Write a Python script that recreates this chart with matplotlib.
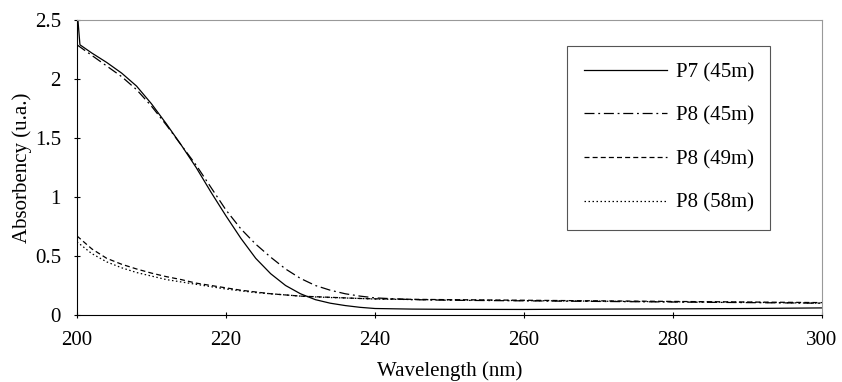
import numpy as np
import matplotlib
matplotlib.use("Agg")
import matplotlib.pyplot as plt

plt.rcParams['font.family'] = ['Liberation Serif', 'DejaVu Serif']

# Absorbency spectra
wl_p7 = [200, 200.4, 202, 204, 206, 208, 210, 212, 214, 216, 218, 220, 222, 224, 226,
         228, 230, 232, 234, 236, 238, 240, 245, 250, 260, 270, 280, 290, 300]
abs_p7_45 = [2.60, 2.29, 2.22, 2.14, 2.05, 1.94, 1.79, 1.62, 1.44, 1.25, 1.04, 0.84, 0.65,
             0.48, 0.35, 0.25, 0.18, 0.13, 0.10, 0.08, 0.065, 0.055, 0.05, 0.048, 0.047,
             0.05, 0.052, 0.055, 0.06]

wl = [200, 202, 204, 206, 208, 210, 212, 214, 216, 218, 220, 222, 224, 226, 228,
      230, 232, 234, 236, 238, 240, 245, 250, 260, 270, 280, 290, 300]
abs_p8_45 = [2.29, 2.20, 2.11, 2.02, 1.91, 1.77, 1.61, 1.44, 1.27, 1.08, 0.89, 0.73, 0.60,
             0.49, 0.39, 0.31, 0.25, 0.21, 0.18, 0.16, 0.145, 0.13, 0.125, 0.12, 0.115,
             0.11, 0.105, 0.10]
abs_p8_49 = [0.67, 0.56, 0.48, 0.43, 0.39, 0.355, 0.325, 0.30, 0.27, 0.25, 0.23, 0.21, 0.195,
             0.18, 0.17, 0.16, 0.155, 0.15, 0.145, 0.14, 0.137, 0.133, 0.13, 0.125, 0.12,
             0.115, 0.11, 0.105]
abs_p8_58 = [0.62, 0.52, 0.45, 0.40, 0.36, 0.33, 0.30, 0.28, 0.26, 0.24, 0.22, 0.205, 0.19,
             0.18, 0.17, 0.16, 0.153, 0.148, 0.144, 0.14, 0.135, 0.131, 0.128, 0.122, 0.117,
             0.112, 0.108, 0.10]

x_ticks = [200, 220, 240, 260, 280, 300]
y_ticks = [0, 0.5, 1, 1.5, 2, 2.5]

fig = plt.figure(figsize=(8.42, 3.82), dpi=100)
ax = fig.add_axes([0.0914, 0.1754, 0.8848, 0.7722])

ax.plot(wl_p7, abs_p7_45, color='black', lw=0.9, ls='-', label='P7 (45m)')
ax.plot(wl, abs_p8_45, color='black', lw=0.9, ls=(0, (8, 3, 1.5, 3)), label='P8 (45m)')
ax.plot(wl, abs_p8_49, color='black', lw=0.9, ls=(0, (4, 2.5)), label='P8 (49m)')
ax.plot(wl, abs_p8_58, color='black', lw=0.9, ls=(0, (1.2, 2)), label='P8 (58m)')

ax.set_xlim(200, 300)
ax.set_ylim(0, 2.5)
ax.set_xticks(x_ticks)
ax.set_yticks(y_ticks)
ax.set_yticklabels(['0', '0.5', '1', '1.5', '2', '2.5'])
ax.tick_params(direction='inout', length=5, width=0.8, labelsize=15)
ax.tick_params(axis='x', pad=9)
ax.tick_params(axis='y', pad=9)

for side in ['left', 'bottom']:
    ax.spines[side].set_linewidth(0.8)
for side in ['top', 'right']:
    ax.spines[side].set_color('#999999')
    ax.spines[side].set_linewidth(0.8)

ax.set_xlabel('Wavelength (nm)', fontsize=15, labelpad=8)
ax.set_ylabel('Absorbency (u.a.)', fontsize=15, labelpad=2)

leg = ax.legend(loc='upper left', bbox_to_anchor=(0.658, 0.912), fontsize=15,
                frameon=True, fancybox=False, edgecolor='#555555', framealpha=1,
                handlelength=4.0, handletextpad=0.4, labelspacing=1.15,
                borderpad=0.8, borderaxespad=0)
leg.get_frame().set_linewidth(0.8)

fig.savefig('out.png', dpi=100)
